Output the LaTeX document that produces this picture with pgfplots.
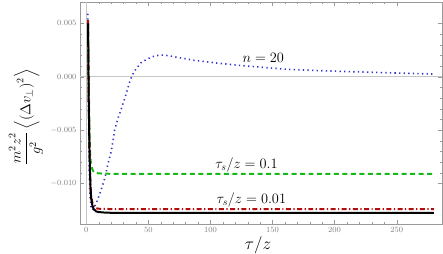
\documentclass[border=0pt]{standalone}
\usepackage{amsmath}
\usepackage{pgfplots}
\pgfplotsset{compat=1.18}
\definecolor{myblue}{rgb}{0.2,0.2,0.8}
\definecolor{mygreen}{rgb}{0.1,0.72,0.1}
\definecolor{myred}{rgb}{0.7,0.05,0.05}
\definecolor{framegray}{gray}{0.6}
\begin{document}
\begin{tikzpicture}
\path[use as bounding box] (0,0) rectangle (443bp,254bp);
\begin{axis}[
  scale only axis, width=362bp, height=222bp,
  at={(80bp,30bp)}, anchor=south west,
  xmin=-5, xmax=286.5, ymin=-0.0138, ymax=0.007,
  xtick={0,50,...,250}, minor x tick num=4,
  ytick={-0.010,-0.005,0,0.005}, minor y tick num=4,
  scaled y ticks=false,
  yticklabel style={/pgf/number format/.cd, fixed, fixed zerofill, precision=3},
  tick align=inside,
  axis line style={framegray},
  tick style={framegray},
  major tick length=4bp, minor tick length=2bp,
  ticklabel style={font=\footnotesize, text=gray},
  clip=true,
]
\addplot[gray!45, line width=0.5pt] coordinates {(-5,0) (286.5,0)};
\addplot[gray!45, line width=0.5pt] coordinates {(0,-0.0138) (0,0.007)};
% blue dotted n=20
\addplot[myblue, line width=1.6pt, dash pattern=on 1.3pt off 3.3pt] coordinates {
(1.2,0.0059) (1.5,0.002) (2,-0.005) (2.5,-0.009) (3,-0.0112) (4,-0.0123) (5,-0.0125)
(6,-0.0124) (7,-0.0121) (9,-0.0116) (12,-0.0106) (15,-0.0095) (17.6,-0.0081) (20.2,-0.0070)
(22.9,-0.0050) (25.6,-0.0039) (28.3,-0.0030) (32.3,-0.00156) (35,-0.00047) (36.6,0)
(38.5,0.00047) (41.2,0.00088) (44.1,0.00131) (47.9,0.00157) (51.9,0.00181) (56.2,0.00197)
(60.5,0.00203) (64.8,0.00199) (69.3,0.00191) (73.7,0.00181) (78.2,0.00172) (82.5,0.00163)
(87,0.00153) (91.6,0.00147) (95.9,0.00141) (100.2,0.00135) (105,0.00128) (110,0.00122)
(120,0.0011) (130,0.00099) (140,0.0009) (150,0.0008) (160,0.00071) (180,0.0006)
(200,0.00052) (220,0.00045) (240,0.00038) (260,0.00031) (280,0.00025)};
% green dashed
\addplot[mygreen, line width=2pt, dash pattern=on 5pt off 3.5pt] coordinates {
(1.5,0.005) (2,0.0) (2.5,-0.004) (3,-0.0068) (3.5,-0.0078) (4,-0.0083) (5,-0.0087)
(6,-0.0089) (8,-0.00902) (10,-0.00906) (20,-0.0091) (280,-0.0091)};
% red dash-dot
\addplot[myred, line width=2pt, dash pattern=on 5pt off 2.5pt on 1.2pt off 2.5pt] coordinates {
(1.5,0.0053) (1.7,0.002) (2,-0.002) (2.5,-0.006) (3,-0.0087) (3.5,-0.0103) (4,-0.0112)
(5,-0.0118) (6,-0.0121) (8,-0.01232) (10,-0.01237) (20,-0.0124) (280,-0.0124)};
% black solid
\addplot[black, line width=2pt] coordinates {
(1.5,0.005) (1.7,0.002) (2,-0.002) (2.5,-0.006) (3,-0.0088) (3.5,-0.0105) (4,-0.0114)
(5,-0.0121) (6,-0.0124) (8,-0.01262) (10,-0.01268) (15,-0.01273) (20,-0.01275) (280,-0.01276)};
\node[font=\Large] at (axis cs:142.6,0.00172) {$n=20$};
\node[font=\Large] at (axis cs:129,-0.00822) {$\tau_s/z=0.1$};
\node[font=\Large] at (axis cs:133,-0.0115) {$\tau_s/z=0.01$};
\end{axis}
\node[font=\LARGE] at (258bp,9bp) {$\tau/z$};
\node[font=\Large, rotate=90, inner sep=0pt] at (26bp,137bp) {$\dfrac{m^2z^2}{g^2}\left\langle\left(\Delta v_\perp\right)^2\right\rangle$};
\end{tikzpicture}
\end{document}
